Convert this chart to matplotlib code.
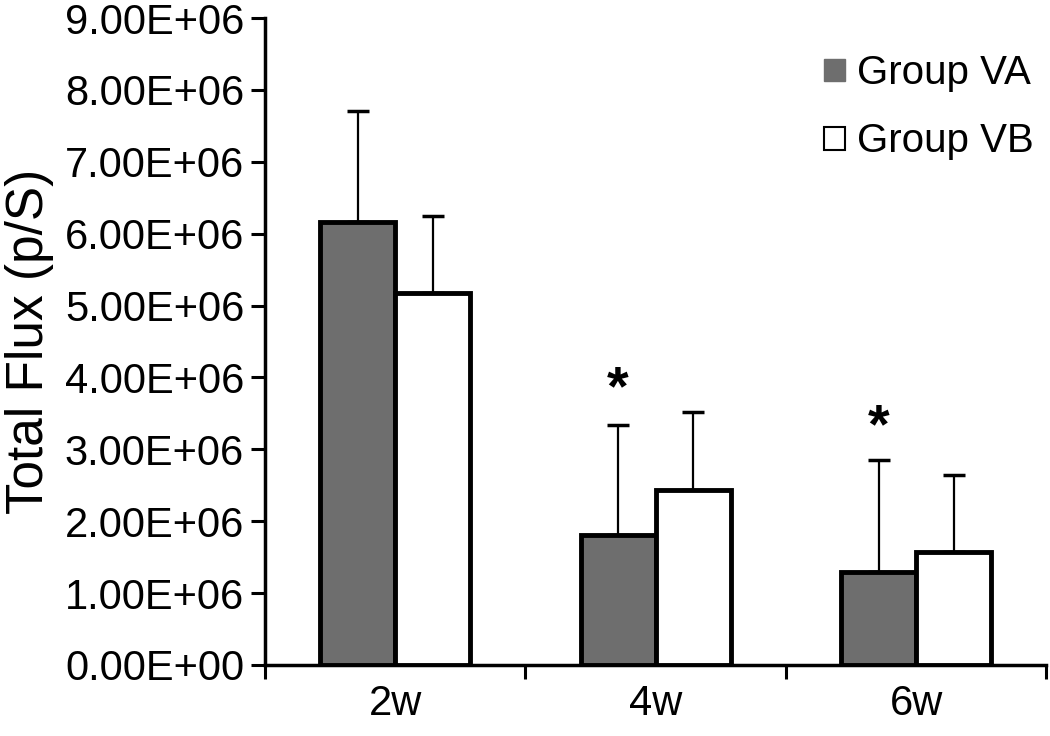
import matplotlib.pyplot as plt
from matplotlib.patches import Patch
import numpy as np

weeks = ["2w", "4w", "6w"]
group_va = [6.16e6, 1.81e6, 1.29e6]
group_va_err = [1.55e6, 1.53e6, 1.56e6]
group_vb = [5.17e6, 2.43e6, 1.57e6]
group_vb_err = [1.07e6, 1.09e6, 1.07e6]
star_y = [None, 3.82e6, 3.29e6]

plt.rcParams["font.family"] = ["Liberation Sans", "DejaVu Sans"]

fig = plt.figure(figsize=(10.5, 7.36), dpi=100)
ax = fig.add_axes([0.2524, 0.0965, 0.744, 0.879])

x = np.arange(len(weeks))
w = 0.288
ax.bar(x - w / 2, group_va, w, color="#6e6e6e", edgecolor="black", linewidth=3.5, zorder=3)
ax.bar(x + w / 2, group_vb, w, color="white", edgecolor="black", linewidth=3.5, zorder=3)
ax.errorbar(x - w / 2, group_va, yerr=[np.zeros(3), group_va_err], fmt="none",
            ecolor="black", elinewidth=1.6, capsize=8, capthick=2.5, zorder=2)
ax.errorbar(x + w / 2, group_vb, yerr=[np.zeros(3), group_vb_err], fmt="none",
            ecolor="black", elinewidth=1.6, capsize=8, capthick=2.5, zorder=2)

for i, sy in enumerate(star_y):
    if sy is not None:
        ax.text(x[i] - w / 2, sy, "*", ha="center", va="center", fontsize=40, fontweight="bold")

ax.set_xlim(-0.5, 2.5)
ax.set_ylim(0, 9e6)
ax.set_yticks(np.arange(0, 9.5e6, 1e6))
ax.set_yticklabels([f"{v:.2E}" for v in np.arange(0, 9.5e6, 1e6)], fontsize=30)
ax.set_xticks(np.arange(-0.5, 3.0, 1.0))
ax.set_xticklabels([])
ax.set_xticks(x, minor=True)
ax.set_xticklabels(weeks, minor=True, fontsize=30)
ax.tick_params(axis="x", which="minor", length=0, pad=14)
ax.tick_params(axis="both", which="major", length=10, width=2.2, direction="out")
ax.tick_params(axis="y", pad=5)

for s in ["top", "right"]:
    ax.spines[s].set_visible(False)
for s in ["left", "bottom"]:
    ax.spines[s].set_linewidth(2.5)

ax.set_ylabel("Total Flux (p/S)", fontsize=37, labelpad=8)

handles = [Patch(facecolor="#6e6e6e", edgecolor="#6e6e6e", linewidth=1),
           Patch(facecolor="white", edgecolor="black", linewidth=1.5)]
ax.legend(handles, ["Group VA", "Group VB"], loc="upper right", frameon=False, fontsize=29,
          handlelength=0.5, handleheight=0.5, handletextpad=0.3, labelspacing=0.75,
          bbox_to_anchor=(1.03, 1.0))

fig.savefig("out.png", dpi=100)
